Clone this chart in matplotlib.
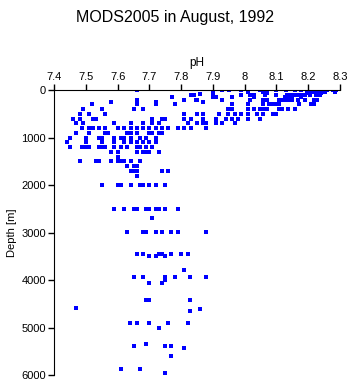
import numpy as np
import matplotlib
matplotlib.use("Agg")
import matplotlib.pyplot as plt

plt.rcParams['font.family'] = ['Liberation Sans', 'DejaVu Sans']

# pH readings grouped by sampling depth (m)
depth_levels = [0, 30, 50, 75, 100, 150, 200, 250, 300, 400, 500, 600, 700, 800,
                900, 1000, 1100, 1200, 1300, 1400, 1500, 1600, 1700, 1800, 2000,
                2500, 2700, 2980, 3450, 3500, 3790, 3940, 4000, 4060, 4420, 4590,
                4610, 4645, 4905, 5000, 5350, 5390, 5430, 5595, 5875, 5945]

ph_by_level = [
    [7.660, 7.930, 7.950, 7.990, 8.010, 8.049, 8.056, 8.059, 8.099, 8.129, 8.158,
     8.179, 8.198, 8.217, 8.222, 8.237, 8.245, 8.251, 8.258, 8.277, 8.289],
    [8.009, 8.059, 8.212, 8.220, 8.229, 8.249, 8.254, 8.285],
    [7.899, 8.069, 8.198, 8.201, 8.231, 8.240],
    [7.860],
    [7.831, 7.840, 7.990, 8.018, 8.028, 8.065, 8.098, 8.135, 8.147, 8.157, 8.168,
     8.178, 8.189, 8.207, 8.225, 8.238],
    [7.770, 7.899, 7.909, 7.959, 8.028, 8.128, 8.138, 8.149, 8.179],
    [7.660, 7.810, 7.848, 7.850, 7.930, 8.018, 8.059, 8.069, 8.109, 8.118, 8.129,
     8.138, 8.149, 8.169, 8.189, 8.218, 8.229],
    [7.580, 7.720, 7.870],
    [7.520, 7.660, 7.720, 7.779, 7.959, 8.009, 8.059, 8.078, 8.088, 8.099, 8.109,
     8.171, 8.208, 8.218],
    [7.490, 7.550, 7.650, 7.681, 7.949, 7.959, 8.009, 8.028, 8.049, 8.059, 8.069,
     8.109, 8.118, 8.138, 8.158],
    [7.481, 7.510, 7.561, 7.810, 7.850, 7.870, 7.919, 7.949, 7.969, 7.990, 8.009,
     8.039, 8.059, 8.088, 8.099],
    [7.460, 7.481, 7.521, 7.530, 7.709, 7.738, 7.749, 7.810, 7.830, 7.870, 7.909,
     7.940, 7.959, 7.979, 8.009, 8.049],
    [7.469, 7.491, 7.589, 7.641, 7.681, 7.709, 7.729, 7.820, 7.850, 7.870, 7.879,
     7.909, 7.930, 7.969],
    [7.489, 7.510, 7.521, 7.541, 7.561, 7.601, 7.621, 7.641, 7.660, 7.681, 7.700,
     7.720, 7.740, 7.760, 7.790, 7.810, 7.830, 7.879],
    [7.470, 7.510, 7.561, 7.570, 7.630, 7.641, 7.660, 7.700, 7.709, 7.729, 7.740],
    [7.450, 7.500, 7.540, 7.550, 7.589, 7.610, 7.621, 7.641, 7.670, 7.690, 7.720],
    [7.441, 7.500, 7.550, 7.589, 7.621, 7.641, 7.660, 7.681, 7.700, 7.720],
    [7.450, 7.489, 7.500, 7.510, 7.540, 7.550, 7.561, 7.589, 7.610, 7.630, 7.660,
     7.670, 7.690, 7.709],
    [7.580, 7.601, 7.660, 7.681, 7.690, 7.700, 7.729],
    [7.601],
    [7.481, 7.530, 7.540, 7.580, 7.601, 7.610, 7.621, 7.641, 7.670],
    [7.630, 7.650, 7.660],
    [7.641, 7.650, 7.660, 7.740, 7.760],
    [7.660],
    [7.550, 7.601, 7.610, 7.641, 7.670, 7.681, 7.700, 7.720, 7.750],
    [7.589, 7.621, 7.650, 7.660, 7.690, 7.700, 7.720, 7.729, 7.750, 7.789],
    [7.709],
    [7.630, 7.681, 7.690, 7.720, 7.740, 7.769, 7.789, 7.878],
    [7.660, 7.681, 7.729, 7.740, 7.769, 7.800, 7.820],
    [7.700, 7.720, 7.750],
    [7.809],
    [7.650, 7.681, 7.750, 7.779, 7.829, 7.878],
    [7.750],
    [7.700, 7.740],
    [7.690, 7.700, 7.829],
    [7.469],
    [7.860],
    [7.829],
    [7.640, 7.660, 7.700, 7.760, 7.820],
    [7.729],
    [7.690],
    [7.650, 7.750, 7.769],
    [7.809],
    [7.769],
    [7.610, 7.670],
    [7.750],
]

ph = np.concatenate([np.array(v) for v in ph_by_level])
depth = np.concatenate([np.full(len(v), d) for d, v in zip(depth_levels, ph_by_level)])

fig = plt.figure(figsize=(3.5, 3.84), dpi=100)
ax = fig.add_axes([0.155, 0.023, 0.816, 0.742])

ax.scatter(ph, depth, s=6, marker='s', color='#0000ff', linewidths=0)

ax.set_xlim(7.4, 8.3)
ax.set_ylim(6000, 0)
ax.set_xticks(np.arange(7.4, 8.31, 0.1))
ax.set_xticklabels(['7.4', '7.5', '7.6', '7.7', '7.8', '7.9', '8', '8.1', '8.2', '8.3'])
ax.set_yticks([0, 1000, 2000, 3000, 4000, 5000, 6000])

ax.xaxis.tick_top()
ax.xaxis.set_label_position('top')
ax.spines['right'].set_visible(False)
ax.spines['bottom'].set_visible(False)
ax.tick_params(axis='both', labelsize=8, length=4, width=1, direction='out', pad=2)

ax.set_xlabel('pH', fontsize=8.5, labelpad=4)
ax.set_ylabel('Depth [m]', fontsize=8, labelpad=3)

fig.suptitle('MODS2005 in August, 1992', fontsize=11.5, y=0.975)

fig.savefig('out.png', dpi=100)
